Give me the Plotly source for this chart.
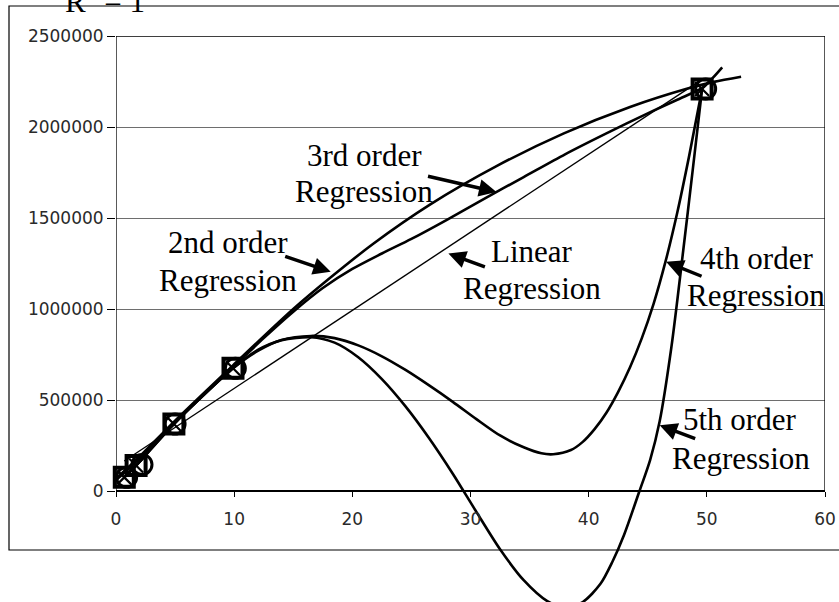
import plotly.graph_objects as go

# ---------------- data ----------------
pt_x = [0.7, 1.7, 4.9, 9.9, 49.6]
pt_y = [75000, 140000, 368000, 674000, 2209000]
circ_x = [0.9, 2.2, 5.0, 10.1, 49.9]
circ_y = [75000, 145000, 368000, 674000, 2209000]

lin_x = [0.7, 49.6]
lin_y = [165000, 2262000]

ord2_x = [0.0, 0.7, 1.7, 4.9, 9.9, 15.0, 18.1, 21.8, 26.6, 32.2, 37.9, 43.5, 48.3, 50.6, 52.9]
ord2_y = [65000, 110000, 170000, 380000, 690000, 1000000, 1170000, 1360000, 1575000,
          1785000, 1965000, 2110000, 2210000, 2248000, 2276000]

ord3_x = [0.0, 0.7, 1.7, 4.9, 9.9, 12.5, 15.0, 17.5, 20.0, 22.5, 25.0, 28.0, 31.0, 34.5,
          38.0, 41.5, 45.0, 47.5, 49.6, 50.5, 51.3]
ord3_y = [60000, 100000, 160000, 372000, 680000, 840000, 985000, 1115000, 1220000, 1305000,
          1385000, 1490000, 1600000, 1725000, 1850000, 1965000, 2075000, 2150000, 2215000,
          2270000, 2328000]

ord4_x = [0.7, 1.7, 4.9, 9.9, 12.0, 14.0, 16.5, 18.5, 20.5, 22.5, 24.5, 26.5, 28.5, 30.5,
          32.5, 34.5, 36.0, 37.0, 38.5, 39.5, 40.5, 41.5, 42.5, 43.5, 44.5, 45.5, 46.5,
          47.5, 48.5, 49.6]
ord4_y = [75000, 140000, 368000, 674000, 770000, 830000, 852000, 840000, 800000, 740000,
          665000, 580000, 490000, 395000, 305000, 240000, 207000, 202000, 225000, 270000,
          340000, 430000, 545000, 680000, 840000, 1030000, 1260000, 1530000, 1840000,
          2209000]

ord5_x = [0.7, 1.7, 4.9, 9.9, 12.0, 14.0, 16.5, 18.5, 20.5, 22.5, 24.5, 26.5, 28.5, 30.5,
          32.5, 34.5, 36.5, 38.0, 39.5, 41.0, 42.0, 43.0, 44.3, 45.2, 46.0, 47.0, 48.0,
          48.8, 49.6]
ord5_y = [75000, 140000, 368000, 674000, 775000, 828000, 845000, 815000, 735000, 615000,
          465000, 290000, 95000, -115000, -320000, -490000, -605000, -640000, -610000,
          -510000, -390000, -240000, 0, 170000, 380000, 790000, 1320000, 1760000, 2209000]

x_ticks = [0, 10, 20, 30, 40, 50, 60]
y_ticks = [0, 500000, 1000000, 1500000, 2000000, 2500000]
y_ticktext = ["0", "500000", "1000000", "1500000", "2000000", "2500000"]

# labels: (text, x, y) and arrows: (head x, head y, tail dx px, tail dy px)
labels = [
    ("3rd order", 21.0, 1846000), ("Regression", 21.0, 1648000),
    ("2nd order", 9.5, 1365000), ("Regression", 9.5, 1158000),
    ("Linear", 35.2, 1316000), ("Regression", 35.2, 1115000),
    ("4th order", 54.2, 1275000), ("Regression", 54.2, 1074000),
    ("5th order", 52.8, 392000), ("Regression", 52.9, 177000),
]
arrows = [
    (32.2, 1643000, -70, -16),
    (18.17, 1204000, -47, -16),
    (28.13, 1305000, 38, 14),
    (46.55, 1259000, 37, 15),
    (46.01, 361000, 37, 14),
]

# ---------------- figure ----------------
Y_TOP = 2500000
Y_BOT = -609890
x_axis_pos = (0 - Y_BOT) / (Y_TOP - Y_BOT)

fig = go.Figure()

curve = dict(color="black", width=2.6, shape="spline", smoothing=0.8)
for xs, ys in [(ord2_x, ord2_y), (ord3_x, ord3_y), (ord4_x, ord4_y), (ord5_x, ord5_y)]:
    fig.add_trace(go.Scatter(x=xs, y=ys, mode="lines", line=curve, hoverinfo="skip"))
fig.add_trace(go.Scatter(x=lin_x, y=lin_y, mode="lines",
                         line=dict(color="black", width=1.4), hoverinfo="skip"))

fig.add_trace(go.Scatter(x=circ_x, y=circ_y, mode="markers", cliponaxis=False,
                         marker=dict(symbol="circle-open", size=20, color="black",
                                     line=dict(color="black", width=3))))
fig.add_trace(go.Scatter(x=pt_x, y=pt_y, mode="markers", cliponaxis=False,
                         marker=dict(symbol="square-open", size=19, color="black",
                                     line=dict(color="black", width=4))))
fig.add_trace(go.Scatter(x=pt_x, y=pt_y, mode="markers", cliponaxis=False,
                         marker=dict(symbol="x-thin-open", size=14, color="black",
                                     line=dict(color="black", width=2.2))))

tick_font = dict(family="DejaVu Sans", size=17, color="#2a2a2a")
text_font = dict(family="Liberation Serif", size=31, color="black")

fig.update_layout(
    width=839, height=602,
    margin=dict(l=116, r=14, t=36, b=0, pad=0),
    plot_bgcolor="white", paper_bgcolor="white",
    showlegend=False,
    xaxis=dict(range=[0, 60], tickvals=x_ticks, ticks="outside", ticklen=5,
               tickwidth=1, tickcolor="black", showline=True, linecolor="black",
               linewidth=2, showgrid=False, zeroline=False, anchor="free",
               position=x_axis_pos, tickfont=tick_font, ticklabelstandoff=8),
    yaxis=dict(range=[Y_BOT, Y_TOP], tickvals=y_ticks, ticktext=y_ticktext,
               ticks="outside", ticklen=8, tickwidth=1, tickcolor="black",
               showline=False, showgrid=True, gridcolor="#6e6e6e", gridwidth=1,
               zeroline=False, tickfont=tick_font, ticklabelstandoff=0),
)

# plot frame (data coordinates) and outer chart border
fig.add_shape(type="rect", xref="x", yref="y", x0=0, x1=60, y0=0, y1=Y_TOP,
              line=dict(color="black", width=1.3), layer="above")
fig.add_shape(type="rect", xref="paper", yref="paper",
              x0=(9 - 116) / 709, x1=(845 - 116) / 709,
              y0=(602 - 550) / 566, y1=(602 - 6) / 566,
              line=dict(color="black", width=1.2))

for txt, x, y in labels:
    fig.add_annotation(x=x, y=y, xref="x", yref="y", text=txt, showarrow=False,
                       font=text_font, xanchor="center", yanchor="middle")
for hx, hy, dx, dy in arrows:
    fig.add_annotation(x=hx, y=hy, xref="x", yref="y", text="", showarrow=True,
                       ax=dx, ay=dy, arrowhead=2, arrowsize=1, arrowwidth=3.5,
                       arrowcolor="black", standoff=0)

fig.add_annotation(x=(105 - 116) / 709, y=(602 + 0.5) / 566, xref="paper", yref="paper",
                   text="R<sup>2</sup> = 1", showarrow=False, font=text_font,
                   xanchor="center", yanchor="middle")

fig.write_html("out.html", config={"displayModeBar": False},
               post_script="document.body.style.margin='0';")
